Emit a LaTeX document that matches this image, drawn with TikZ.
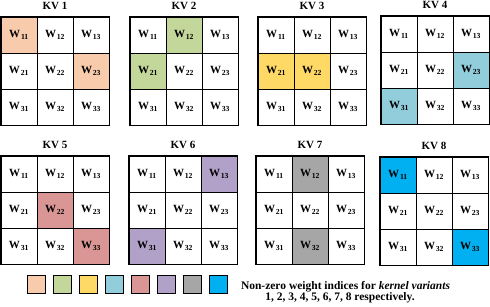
\documentclass[tikz,border=0pt]{standalone}
\usepackage{fontspec}
\setmainfont{Liberation Serif}
\definecolor{kvA}{HTML}{F8CBAD}
\definecolor{kvB}{HTML}{C4D79B}
\definecolor{kvC}{HTML}{FFD966}
\definecolor{kvD}{HTML}{92CDDC}
\definecolor{kvE}{HTML}{DA9694}
\definecolor{kvF}{HTML}{B1A0C7}
\definecolor{kvG}{HTML}{A6A6A6}
\definecolor{kvH}{HTML}{00B0F0}
\tikzset{
  cell/.style={draw=black, line width=0.8pt, minimum size=36pt, inner sep=0pt,
    font=\fontsize{11}{13}\selectfont\bfseries},
  outer/.style={draw=black, line width=1.3pt},
  kvtitle/.style={font=\fontsize{11}{13}\selectfont\bfseries, inner sep=0pt},
  legbox/.style={draw=black, line width=1pt, minimum size=18pt, inner sep=0pt},
  legtext/.style={font=\fontsize{11.5}{12}\selectfont\bfseries, inner sep=0pt}
}
\newcommand{\kvgrid}[7]{%
  \node[kvtitle] (#1t) at (#2+54,#3-11) {KV #4};
  \foreach \r in {1,2,3}{\foreach \c in {1,2,3}{%
    \pgfmathtruncatemacro\idx{10*\r+\c}%
    \def\fc{white}%
    \ifnum\idx=#6 \def\fc{#5}\fi
    \ifnum\idx=#7 \def\fc{#5}\fi
    \node[cell,fill=\fc] (#1c\r\c) at (#2+36*\c-18,#3+36*\r-18) {W\kern0.8pt\textsubscript{\r\c}};
  }}
  \draw[outer] (#1c11.north west) rectangle (#1c33.south east);
}
\begin{document}
\begin{tikzpicture}[x=1pt,y=-1pt]
\useasboundingbox (0,0) rectangle (490,306);
\kvgrid{a}{1}{17}{1}{kvA}{11}{23}
\kvgrid{b}{130}{17}{2}{kvB}{12}{21}
\kvgrid{c}{258}{17}{3}{kvC}{21}{22}
\kvgrid{d}{381}{16}{4}{kvD}{23}{31}
\kvgrid{e}{1}{156}{5}{kvE}{22}{33}
\kvgrid{f}{129}{156}{6}{kvF}{13}{31}
\kvgrid{g}{256}{156}{7}{kvG}{12}{32}
\kvgrid{h}{380}{157}{8}{kvH}{11}{33}
\foreach \i/\col in {1/kvA,2/kvB,3/kvC,4/kvD,5/kvE,6/kvF,7/kvG,8/kvH}{
  \node[legbox,fill=\col] (leg\i) at (36+26*\i-26,284.5) {};
}
\node[legtext] (legtxtA) at (345.5,286.5) {Non-zero weight indices for \textit{kernel variants}};
\node[legtext] (legtxtB) at (340,298) {1, 2, 3, 4, 5, 6, 7, 8 respectively.};
\end{tikzpicture}
\end{document}
